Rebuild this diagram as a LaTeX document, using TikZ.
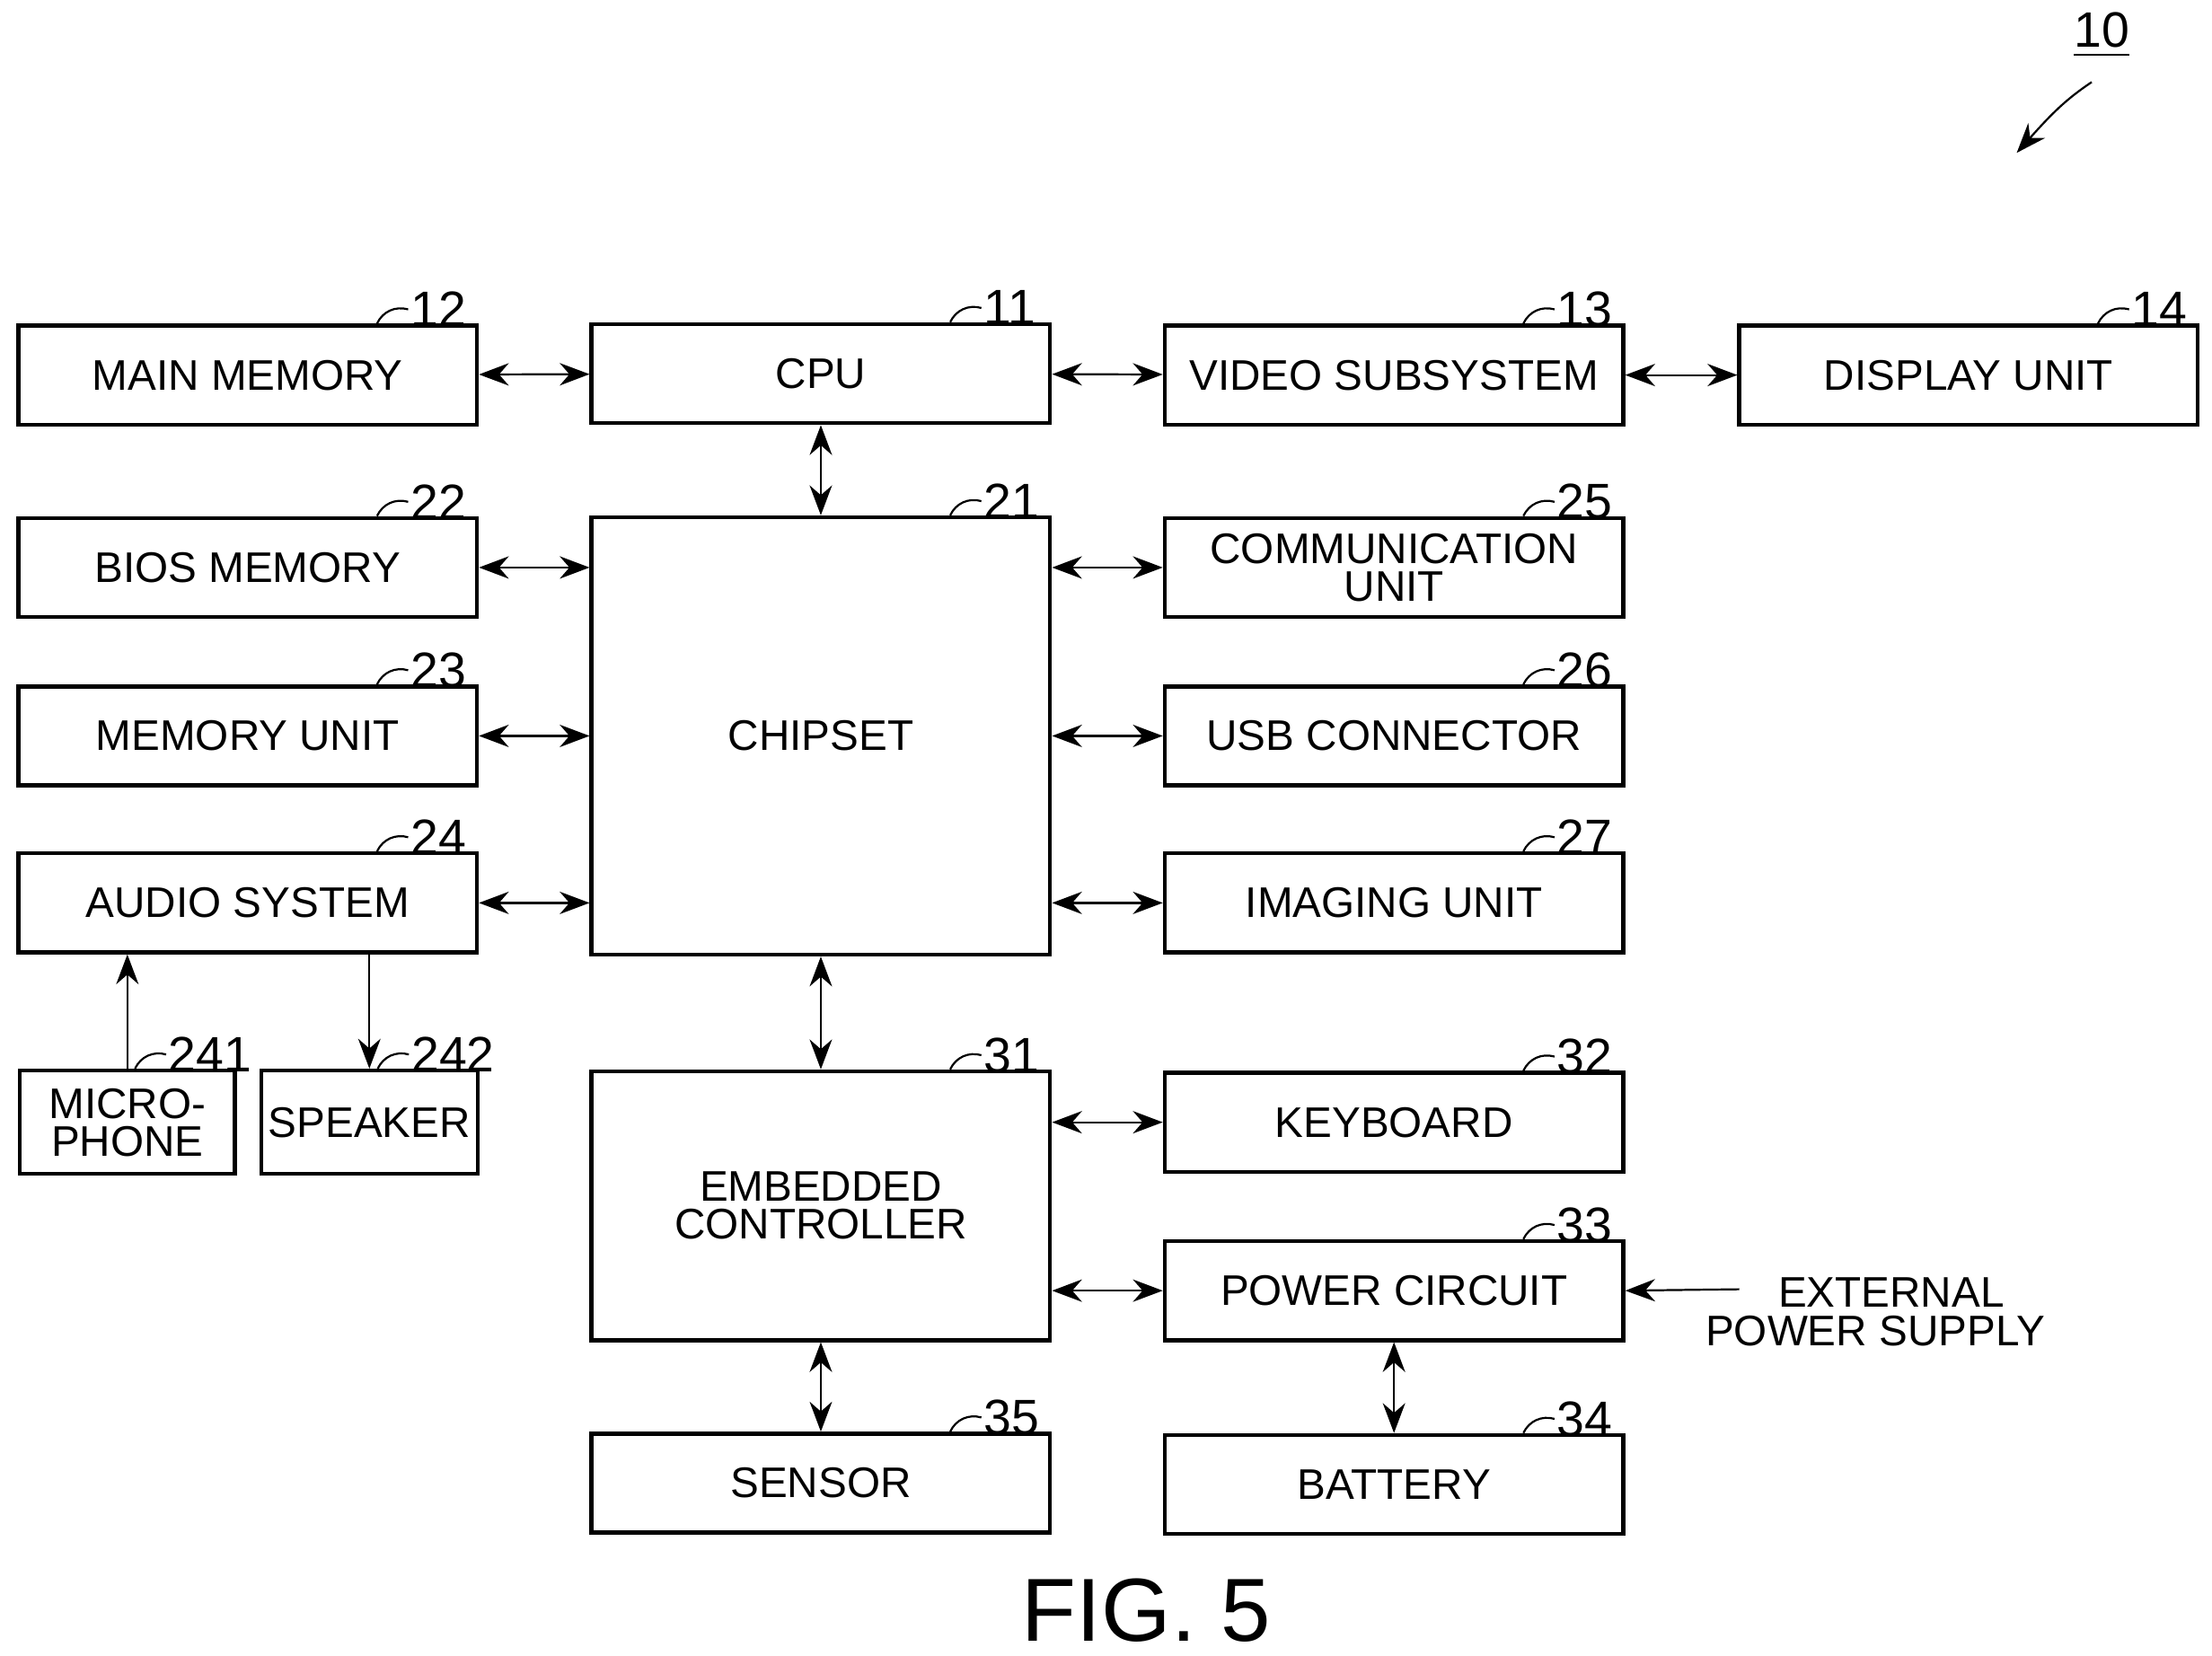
\documentclass[tikz,border=0pt]{standalone}
\usepackage{fontspec}
\setmainfont{Liberation Sans}
\usetikzlibrary{arrows.meta}

\newcommand{\refnum}[2]{\draw[thin] ([xshift=-0.72cm]#1.north east) to[bend left=40] ++(22,-10) node[right=-3pt,font=\fontsize{10}{10}\selectfont] {#2};}

\begin{document}
\begin{tikzpicture}[x=0.1mm, y=-0.1mm,
  box/.style = {draw, thick, minimum width=3.24cm, minimum height=0.7cm, align=center, font=\fontsize{8.6}{8.6}\selectfont, inner sep=0pt},
  link/.style = {{Stealth[length=6pt]}-{Stealth[length=6pt]}},
  one/.style = {-{Stealth[length=6pt]}}]
\useasboundingbox (0,0) rectangle (1563,1170);
% top row
\node[box] (mainmem) at (175,265) {MAIN MEMORY};
\node[box] (cpu) at (580,264) {CPU};
\node[box] (video) at (985,265) {VIDEO SUBSYSTEM};
\node[box] (display) at (1391,265) {DISPLAY UNIT};
% chipset and its peers
\node[box, minimum height=3.09cm] (chipset) at (580,520) {CHIPSET};
\node[box] (bios) at (175,401) {BIOS MEMORY};
\node[box] (memunit) at (175,520) {MEMORY UNIT};
\node[box] (audio) at (175,638) {AUDIO SYSTEM};
\node[box] (comm) at (985,401) {COMMUNICATION\\[-1pt]UNIT};
\node[box] (usb) at (985,520) {USB CONNECTOR};
\node[box] (imaging) at (985,638) {IMAGING UNIT};
\node[box, minimum width=1.52cm, minimum height=0.73cm] (mic) at (90,793) {MICRO-\\[-1pt]PHONE};
\node[box, minimum width=1.53cm, minimum height=0.73cm] (speaker) at (261,793) {SPEAKER};
% embedded controller
\node[box, minimum height=1.9cm] (ec) at (580,852) {EMBEDDED\\[-1pt]CONTROLLER};
\node[box] (keyboard) at (985,793) {KEYBOARD};
\node[box] (power) at (985,912) {POWER CIRCUIT};
\node[box] (sensor) at (580,1048) {SENSOR};
\node[box] (battery) at (985,1049) {BATTERY};
\node[align=left, font=\fontsize{8.6}{8.6}\selectfont] (ext) at (1325,927) {\hspace*{1.7em}EXTERNAL\\[-1pt]POWER SUPPLY};
\node[font=\fontsize{18}{18}\selectfont] (fig) at (810,1138) {FIG. 5};
% connectors
\draw[link] (mainmem) -- (cpu);
\draw[link] (cpu) -- (video);
\draw[link] (video) -- (display);
\draw[link] (cpu) -- (chipset);
\draw[link] (chipset) -- (ec);
\draw[link] (ec) -- (sensor);
\draw[link] (power) -- (battery);
\foreach \n in {bios,memunit,audio}
  \draw[link] (\n.east) -- (\n.east -| chipset.west);
\foreach \n in {comm,usb,imaging}
  \draw[link] (\n.west -| chipset.east) -- (\n.west);
\foreach \n in {keyboard,power}
  \draw[link] (\n.west -| ec.east) -- (\n.west);
\draw[one] (mic.north) -- (mic.north |- audio.south);
\draw[one] (speaker.north |- audio.south) -- (speaker.north);
\coordinate (extstart) at (1229,911);
\draw[one] (extstart) -- (power.east);
% reference numerals
\refnum{mainmem}{12}
\refnum{cpu}{11}
\refnum{video}{13}
\refnum{display}{14}
\refnum{bios}{22}
\refnum{chipset}{21}
\refnum{comm}{25}
\refnum{memunit}{23}
\refnum{usb}{26}
\refnum{audio}{24}
\refnum{imaging}{27}
\refnum{mic}{241}
\refnum{speaker}{242}
\refnum{ec}{31}
\refnum{keyboard}{32}
\refnum{power}{33}
\refnum{sensor}{35}
\refnum{battery}{34}
% device numeral
\node[font=\fontsize{10}{10}\selectfont] (ten) at (1485,25) {\underline{10}};
\coordinate (tenarrow) at (1478,58);
\draw[one] (tenarrow) .. controls (1460,70) and (1450,80) .. (1425,108);
\end{tikzpicture}
\end{document}
